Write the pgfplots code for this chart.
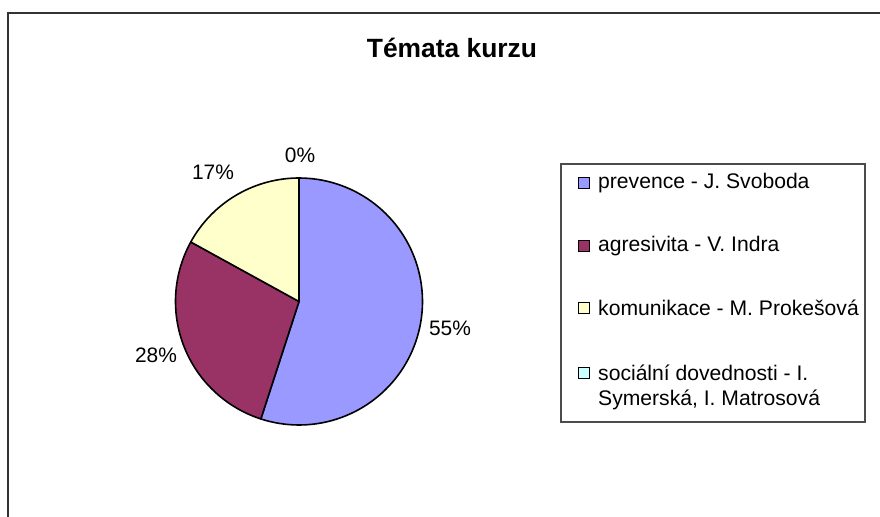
\documentclass[border=0pt]{standalone}
\usepackage{pgfplots}
\pgfplotsset{compat=1.18}
\usepackage{pgfplotstable}
\usepackage{fontspec}
\setmainfont{Liberation Sans}
\definecolor{cA}{HTML}{9999FF}
\definecolor{cB}{HTML}{993366}
\definecolor{cC}{HTML}{FFFFCC}
\definecolor{cD}{HTML}{CCFFFF}
% values (percent)
\pgfplotstableread{
topic value
prevence 55
agresivita 28
komunikace 17
socialni 0
}\pietable
\pgfplotstablegetelem{0}{value}\of\pietable \let\vA\pgfplotsretval
\pgfplotstablegetelem{1}{value}\of\pietable \let\vB\pgfplotsretval
\pgfplotstablegetelem{2}{value}\of\pietable \let\vC\pgfplotsretval
\pgfplotstablegetelem{3}{value}\of\pietable \let\vD\pgfplotsretval
\pgfmathsetmacro\aO{90}
\pgfmathsetmacro\aA{\aO-3.6*\vA}
\pgfmathsetmacro\aB{\aA-3.6*\vB}
\pgfmathsetmacro\aC{\aB-3.6*\vC}
\def\cx{299}\def\cy{215.5}\def\rr{123.5}
\begin{document}
\begin{tikzpicture}
\useasboundingbox (0,0) rectangle (880bp,517bp);
\begin{axis}[x=1bp,y=1bp,xmin=0,xmax=880,ymin=0,ymax=517,
  axis lines=none, clip=false, scale only axis]
% outer frame
\draw[black!80, line width=1.6bp] (axis cs:8,-5) -- (axis cs:8,504) -- (axis cs:885,504);
% title
\node[font=\fontsize{26.5}{30}\selectfont\bfseries] at (axis cs:452,469) {Témata kurzu};
% slices
\addplot[fill=cA, draw=black, line width=1.6bp, line join=round, domain=\aA:\aO, samples=90, variable=\t]
  ({\cx+\rr*cos(t)},{\cy+\rr*sin(t)}) -- (axis cs:\cx,\cy) -- cycle;
\addplot[fill=cB, draw=black, line width=1.6bp, line join=round, domain=\aB:\aA, samples=60, variable=\t]
  ({\cx+\rr*cos(t)},{\cy+\rr*sin(t)}) -- (axis cs:\cx,\cy) -- cycle;
\addplot[fill=cC, draw=black, line width=1.6bp, line join=round, domain=\aC:\aB, samples=40, variable=\t]
  ({\cx+\rr*cos(t)},{\cy+\rr*sin(t)}) -- (axis cs:\cx,\cy) -- cycle;
% labels
\begin{scope}[every node/.style={font=\fontsize{21}{24}\selectfont}]
\node at (axis cs:300,362) {\vD\%};
\node at (axis cs:213,345) {\vC\%};
\node at (axis cs:156,162) {\vB\%};
\node at (axis cs:450,189) {\vA\%};
\end{scope}
% legend
\draw[black!70, line width=1.1bp] (axis cs:561,95) rectangle (axis cs:865,353);
\begin{scope}[every node/.style={font=\fontsize{21.2}{24}\selectfont, anchor=west, inner sep=0pt}]
\filldraw[fill=cA, draw=black, line width=1.1bp] (axis cs:578.5,328.5) rectangle (axis cs:589.5,339.5);
\node at (axis cs:598,334) {prevence - J. Svoboda};
\filldraw[fill=cB, draw=black, line width=1.1bp] (axis cs:578.5,265.5) rectangle (axis cs:589.5,276.5);
\node at (axis cs:598,271) {agresivita - V. Indra};
\filldraw[fill=cC, draw=black, line width=1.1bp] (axis cs:578.5,203.5) rectangle (axis cs:589.5,214.5);
\node at (axis cs:598,209) {komunikace - M. Prokešová};
\filldraw[fill=cD, draw=black, line width=1.1bp] (axis cs:578.5,138.5) rectangle (axis cs:589.5,149.5);
\node at (axis cs:598,144) {sociální dovednosti - I.};
\node at (axis cs:598,117) {Symerská, I. Matrosová};
\end{scope}
\end{axis}
\end{tikzpicture}
\end{document}
